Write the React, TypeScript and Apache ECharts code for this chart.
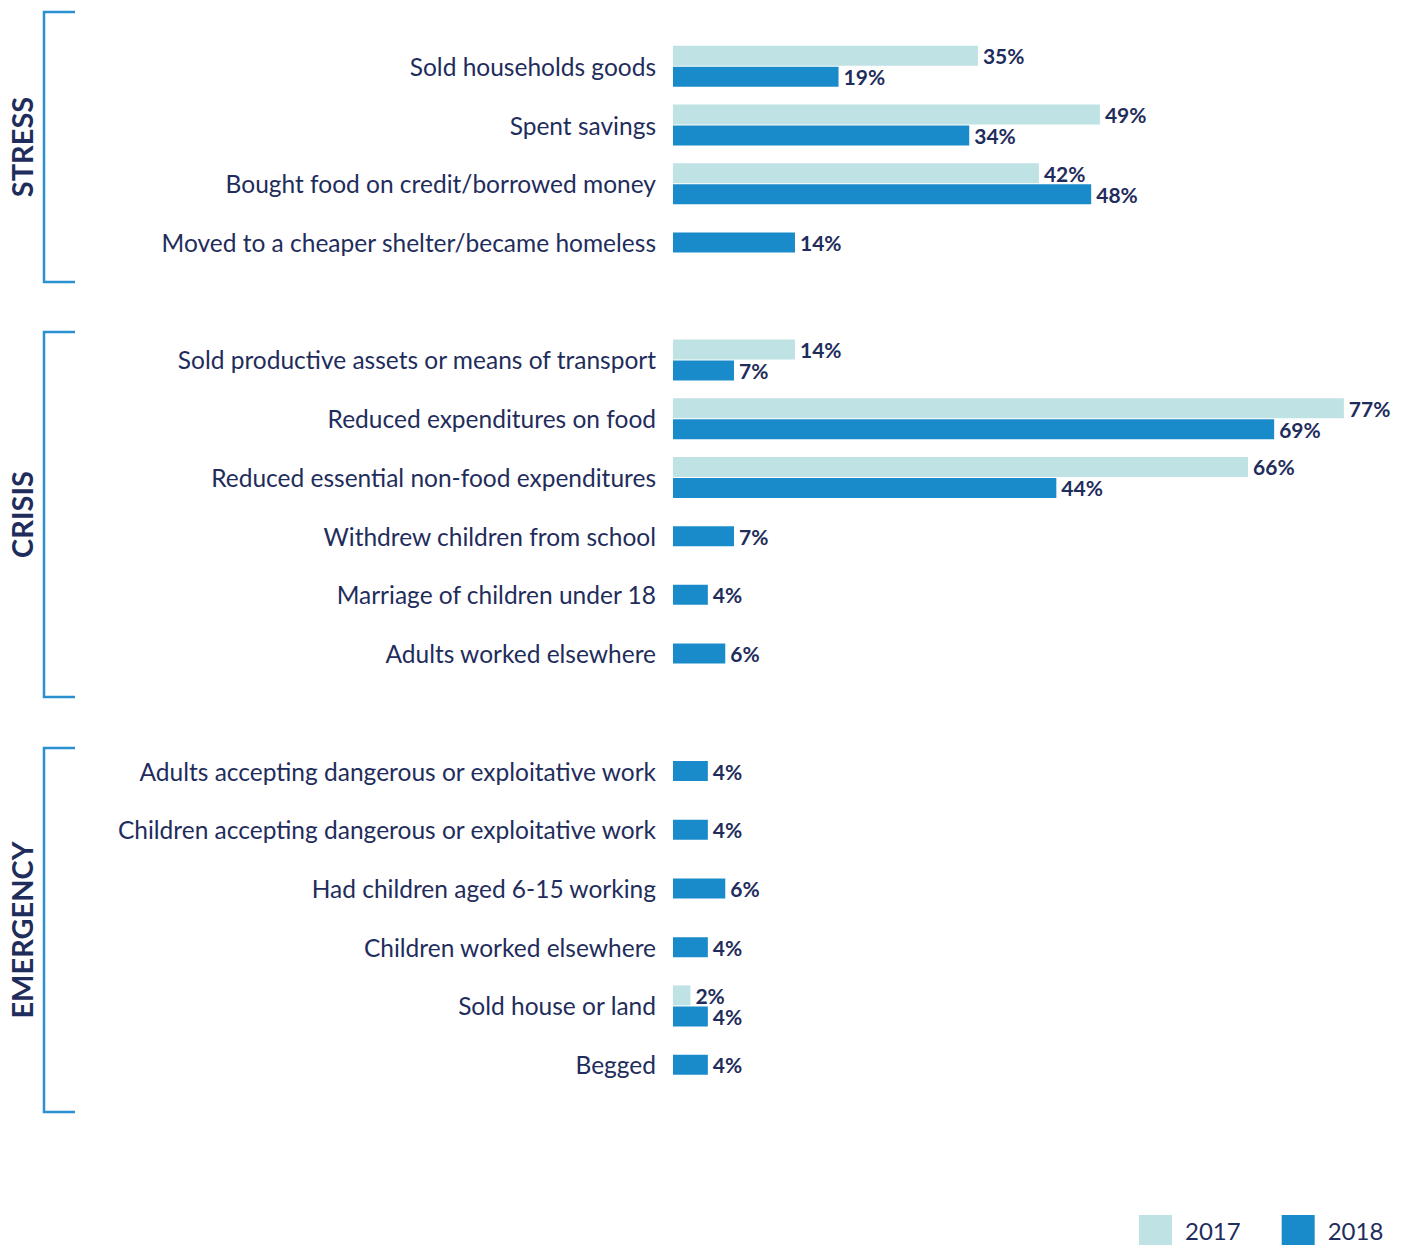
import React, { useEffect, useRef } from "react";
import * as echarts from "echarts";

const categories = [
  "Sold households goods",
  "Spent savings",
  "Bought food on credit/borrowed money",
  "Moved to a cheaper shelter/became homeless",
  "gap1",
  "Sold productive assets or means of transport",
  "Reduced expenditures on food",
  "Reduced essential non-food expenditures",
  "Withdrew children from school",
  "Marriage of children under 18",
  "Adults worked elsewhere",
  "gap2",
  "Adults accepting dangerous or exploitative work",
  "Children accepting dangerous or exploitative work",
  "Had children aged 6-15 working",
  "Children worked elsewhere",
  "Sold house or land",
  "Begged",
];

const values2017: (number | null)[] = [35, 49, 42, null, null, 14, 77, 66, null, null, null, null, null, null, null, null, 2, null];
const values2018: (number | null)[] = [19, 34, 48, 14, null, 7, 69, 44, 7, 4, 6, null, 4, 4, 6, 4, 4, 4];

const groups = [
  { name: "STRESS", top: 12, bottom: 282 },
  { name: "CRISIS", top: 332, bottom: 697 },
  { name: "EMERGENCY", top: 748, bottom: 1112 },
];

const NAVY = "#1f2d5c";
const LIGHT = "#bfe2e4";
const BLUE = "#1a8bca";
const BRACKET = "#2a90d0";
const FONT = "Lato, 'Open Sans', sans-serif";

export default function App() {
  const ref = useRef<HTMLDivElement>(null);
  useEffect(() => {
    if (!ref.current) return;
    const chart = echarts.init(ref.current, undefined, { renderer: "svg" });
    const paired2018 = values2018.map((v, i) => (values2017[i] != null ? v : null));
    const single2018 = values2018.map((v, i) => (values2017[i] == null ? v : null));
    const valueLabel = {
      show: true,
      position: "right" as const,
      distance: 5,
      color: NAVY,
      fontWeight: "bold" as const,
      fontSize: 21,
      fontFamily: FONT,
      formatter: (p: any) => (p.value == null ? "" : p.value + "%"),
    };
    const graphics: any[] = [];
    groups.forEach((g) => {
      graphics.push({
        type: "polyline",
        shape: { points: [[75, g.top], [44, g.top], [44, g.bottom], [75, g.bottom]] },
        style: { stroke: BRACKET, lineWidth: 2.5, fill: null },
      });
      graphics.push({
        type: "text",
        x: 21,
        y: (g.top + g.bottom) / 2,
        rotation: Math.PI / 2,
        style: {
          text: g.name,
          fill: NAVY,
          fontSize: 29,
          fontWeight: "bold",
          fontFamily: FONT,
          align: "center",
          verticalAlign: "middle",
        },
      });
    });
    chart.setOption({
      animation: false,
      backgroundColor: "#ffffff",
      grid: { left: 673, right: 41, top: 37, bottom: 151, containLabel: false },
      legend: {
        data: ["2017", "2018"],
        left: 1134,
        top: 1210,
        itemWidth: 33,
        itemHeight: 30,
        itemGap: 41,
        icon: "rect",
        textStyle: { color: NAVY, fontSize: 24, fontFamily: FONT, padding: [0, 0, 0, 8] },
      },
      xAxis: { type: "value", min: 0, max: 80, show: false },
      yAxis: [
        {
          type: "category",
          data: categories,
          inverse: true,
          axisLine: { show: false },
          axisTick: { show: false },
          axisLabel: {
            color: NAVY,
            fontSize: 24.5,
            fontFamily: FONT,
            margin: 17,
            formatter: (v: string) => (v.startsWith("gap") ? "" : v),
          },
        },
        { type: "category", data: categories, inverse: true, show: false },
      ],
      series: [
        {
          name: "2017",
          type: "bar",
          yAxisIndex: 0,
          data: values2017,
          barWidth: 20,
          barGap: "5%",
          itemStyle: { color: LIGHT },
          label: valueLabel,
        },
        {
          name: "2018",
          type: "bar",
          yAxisIndex: 0,
          data: paired2018,
          barWidth: 20,
          barGap: "5%",
          itemStyle: { color: BLUE },
          label: valueLabel,
        },
        {
          name: "2018",
          type: "bar",
          yAxisIndex: 1,
          data: single2018,
          barWidth: 20,
          itemStyle: { color: BLUE },
          label: valueLabel,
        },
      ],
      graphic: graphics,
    });
    return () => chart.dispose();
  }, []);
  return (
    <div
      ref={ref}
      style={{ position: "fixed", left: 0, top: 0, width: 1411, height: 1245, background: "#fff" }}
    />
  );
}
